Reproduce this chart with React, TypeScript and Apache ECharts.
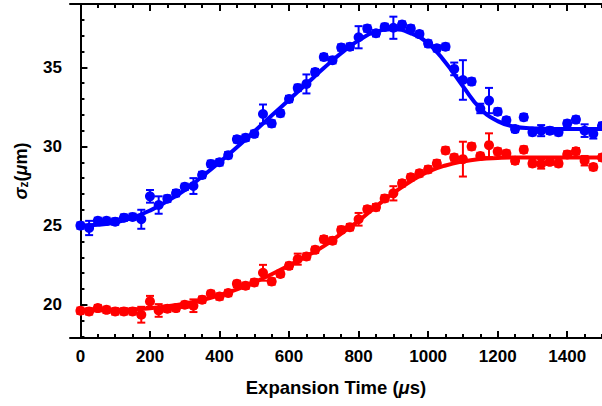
import React, { useEffect, useRef } from "react";
import * as echarts from "echarts";

const times = [0,25,50,75,100,125,150,175,200,225,250,275,300,325,350,375,400,425,450,475,500,525,550,575,600,625,650,675,700,725,750,775,800,825,850,875,900,925,950,975,1000,1025,1050,1075,1100,1125,1150,1175,1200,1225,1250,1275,1300,1325,1350,1375,1400,1425,1450,1475,1500];

const blueValues = [25.0,24.85,25.3,25.3,25.25,25.5,25.55,25.4,26.85,26.3,
26.7,27.05,27.45,27.5,28.2,28.9,29.0,29.45,30.45,30.55,
30.8,32.05,31.45,32.1,33.0,33.7,33.95,34.7,35.65,35.45,
36.25,36.3,36.9,37.45,37.15,37.55,37.5,37.7,37.45,37.1,
36.5,36.2,36.3,34.9,34.2,34.1,32.4,32.9,32.2,31.65,
31.1,31.85,30.9,31.0,31.0,30.9,31.45,31.7,31.0,30.8,
31.3];

const blueErr = [0.2,0.45,0.2,0.2,0.2,0.2,0.2,0.6,0.4,0.55,
0.2,0.2,0.2,0.5,0.2,0.2,0.2,0.2,0.2,0.2,
0.2,0.6,0.2,0.2,0.2,0.2,0.6,0.2,0.2,0.2,
0.2,0.2,0.7,0.2,0.2,0.2,0.7,0.2,0.2,0.2,
0.2,0.2,0.2,0.4,1.25,0.2,0.3,0.8,0.2,0.2,
0.2,0.2,0.2,0.35,0.2,0.2,0.2,0.2,0.4,0.3,
0.2];

const redValues = [19.62,19.58,19.79,19.68,19.58,19.58,19.58,19.37,20.21,19.64,
19.75,19.79,20.0,19.94,20.32,20.69,20.52,20.74,21.32,21.2,
21.41,22.02,21.47,21.95,22.46,22.88,23.05,23.47,24.14,24.05,
24.73,24.9,25.4,26.03,26.16,26.72,27.04,27.67,28.05,28.3,
28.55,28.93,29.75,29.3,29.2,30.0,29.4,30.08,29.68,29.55,
29.1,29.8,28.93,28.9,29.03,28.93,29.5,29.7,29.1,28.7,
29.3];

const redErr = [0.2,0.2,0.2,0.2,0.2,0.2,0.2,0.5,0.35,0.4,
0.2,0.2,0.2,0.4,0.2,0.2,0.2,0.2,0.2,0.2,
0.2,0.5,0.2,0.2,0.2,0.35,0.2,0.2,0.2,0.2,
0.2,0.2,0.4,0.2,0.2,0.2,0.45,0.2,0.2,0.2,
0.2,0.2,0.2,0.2,1.1,0.2,0.2,0.75,0.2,0.2,
0.2,0.2,0.2,0.3,0.2,0.2,0.2,0.2,0.3,0.2,
0.2];

const fitTimes = [0,50,100,150,200,250,300,350,400,450,500,550,600,650,700,750,800,850,900,950,1000,1050,1100,1150,1200,1250,1300,1350,1400,1450,1500];
const blueFit = [25.0,25.05,25.2,25.5,25.95,26.55,27.25,28.1,29.0,29.95,30.95,31.95,32.95,33.95,34.95,35.9,36.7,37.25,37.4,37.15,36.5,35.3,33.8,32.4,31.6,31.25,31.15,31.1,31.1,31.1,31.1];
const redFit = [19.65,19.65,19.67,19.7,19.78,19.9,20.07,20.3,20.6,20.97,21.42,21.93,22.48,23.07,23.7,24.5,25.3,26.2,27.05,27.8,28.4,28.8,29.05,29.2,29.27,29.3,29.3,29.3,29.3,29.3,29.3];

const xMajor = [0,200,400,600,800,1000,1200,1400];
const xMinor = [50,100,150,250,300,350,450,500,550,650,700,750,850,900,950,1050,1100,1150,1250,1300,1350,1450,1500];
const yMajor = [20,25,30,35];
const yMinor = [18,19,21,22,23,24,26,27,28,29,31,32,33,34,36,37,38,39];

const BLUE = "#0000ff";
const RED = "#ff0000";
const FONT = "Liberation Sans";

function errSeries(values: number[], errs: number[], color: string) {
  return {
    type: "custom",
    xAxisIndex: 0,
    yAxisIndex: 0,
    clip: true,
    data: times.map((t, i) => [t, values[i] - errs[i], values[i] + errs[i]]),
    encode: { x: 0, y: [1, 2] },
    renderItem: (params: any, api: any) => {
      const x = api.value(0);
      const lo = api.coord([x, api.value(1)]);
      const hi = api.coord([x, api.value(2)]);
      const w = 4;
      const st = { stroke: color, lineWidth: 2 };
      return {
        type: "group",
        children: [
          { type: "line", shape: { x1: lo[0], y1: lo[1], x2: hi[0], y2: hi[1] }, style: st },
          { type: "line", shape: { x1: lo[0] - w, y1: lo[1], x2: lo[0] + w, y2: lo[1] }, style: st },
          { type: "line", shape: { x1: hi[0] - w, y1: hi[1], x2: hi[0] + w, y2: hi[1] }, style: st },
        ],
      };
    },
    z: 3,
  };
}

export default function App() {
  const ref = useRef<HTMLDivElement>(null);
  useEffect(() => {
    if (!ref.current) return;
    const chart = echarts.init(ref.current, undefined, { renderer: "svg" });
    const axisLine = { show: true, lineStyle: { color: "#000", width: 2 } };
    const labelStyle = { color: "#000", fontFamily: FONT, fontWeight: "bold", fontSize: 17 };
    const baseX = { type: "value", min: -30, max: 1500, splitLine: { show: false } };
    const baseY = { type: "value", min: 17.9, max: 39, splitLine: { show: false } };
    chart.setOption({
      animation: false,
      backgroundColor: "#fff",
      grid: { left: 70, right: 0, top: 4, bottom: 68, containLabel: false },
      xAxis: [
        {
          ...baseX,
          position: "bottom",
          axisLine,
          axisTick: { show: true, inside: true, length: 7, lineStyle: { color: "#000", width: 2 }, customValues: xMajor },
          axisLabel: { ...labelStyle, margin: 10, customValues: xMajor, formatter: (v: number) => String(v) },
          name: "{n|Expansion Time (}{i|\u03bc}{n|s)}",
          nameLocation: "middle",
          nameGap: 40,
          nameTextStyle: {
            color: "#000",
            fontFamily: FONT,
            fontWeight: "bold",
            fontSize: 18.5,
            rich: {
              n: { fontFamily: FONT, fontSize: 18.5, fontWeight: "bold", color: "#000" },
              i: { fontFamily: FONT, fontSize: 18.5, fontWeight: "bold", fontStyle: "italic", color: "#000" },
            },
          },
        },
        {
          ...baseX,
          position: "bottom",
          axisLine: { show: false },
          axisTick: { show: true, inside: true, length: 4, lineStyle: { color: "#000", width: 2 }, customValues: xMinor },
          axisLabel: { show: false },
        },
        {
          ...baseX,
          position: "top",
          axisLine,
          axisTick: { show: true, inside: true, length: 7, lineStyle: { color: "#000", width: 2 }, customValues: xMajor },
          axisLabel: { show: false },
        },
        {
          ...baseX,
          position: "top",
          axisLine: { show: false },
          axisTick: { show: true, inside: true, length: 4, lineStyle: { color: "#000", width: 2 }, customValues: xMinor },
          axisLabel: { show: false },
        },
      ],
      yAxis: [
        {
          ...baseY,
          position: "left",
          axisLine,
          axisTick: { show: true, inside: true, length: 7, lineStyle: { color: "#000", width: 2 }, customValues: yMajor },
          axisLabel: { ...labelStyle, margin: 8, customValues: yMajor, formatter: (v: number) => String(v) },
          name: "{i|\u03c3}{s|z}{n|(}{i|\u03bc}{n|m)}",
          nameLocation: "middle",
          nameGap: 40,
          nameRotate: 90,
          nameTextStyle: {
            color: "#000",
            fontFamily: FONT,
            fontSize: 18,
            rich: {
              i: { fontFamily: FONT, fontSize: 18, fontStyle: "italic", fontWeight: "bold", color: "#000" },
              n: { fontFamily: FONT, fontSize: 18, fontWeight: "bold", color: "#000" },
              s: { fontFamily: FONT, fontSize: 12, fontWeight: "bold", color: "#000", verticalAlign: "bottom", padding: [6, 0, 0, 0] },
            },
          },
        },
        {
          ...baseY,
          position: "left",
          axisLine: { show: false },
          axisTick: { show: true, inside: true, length: 4, lineStyle: { color: "#000", width: 2 }, customValues: yMinor },
          axisLabel: { show: false },
        },
      ],
      series: [
        {
          type: "line",
          xAxisIndex: 0,
          yAxisIndex: 0,
          data: fitTimes.map((t, i) => [t, blueFit[i]]),
          smooth: true,
          showSymbol: false,
          symbol: "none",
          lineStyle: { color: BLUE, width: 4 },
          z: 2,
        },
        {
          type: "line",
          xAxisIndex: 0,
          yAxisIndex: 0,
          data: fitTimes.map((t, i) => [t, redFit[i]]),
          smooth: true,
          showSymbol: false,
          symbol: "none",
          lineStyle: { color: RED, width: 4 },
          z: 2,
        },
        errSeries(blueValues, blueErr, BLUE),
        errSeries(redValues, redErr, RED),
        {
          type: "scatter",
          xAxisIndex: 0,
          yAxisIndex: 0,
          data: times.map((t, i) => [t, blueValues[i]]),
          symbol: "circle",
          symbolSize: 10,
          itemStyle: { color: BLUE, opacity: 1 },
          z: 4,
        },
        {
          type: "scatter",
          xAxisIndex: 0,
          yAxisIndex: 0,
          data: times.map((t, i) => [t, redValues[i]]),
          symbol: "circle",
          symbolSize: 10,
          itemStyle: { color: RED, opacity: 1 },
          z: 4,
        },
      ],
    });
    return () => chart.dispose();
  }, []);
  return (
    <div
      ref={ref}
      style={{ position: "fixed", left: 0, top: 0, width: 602, height: 406, background: "#fff" }}
    />
  );
}
